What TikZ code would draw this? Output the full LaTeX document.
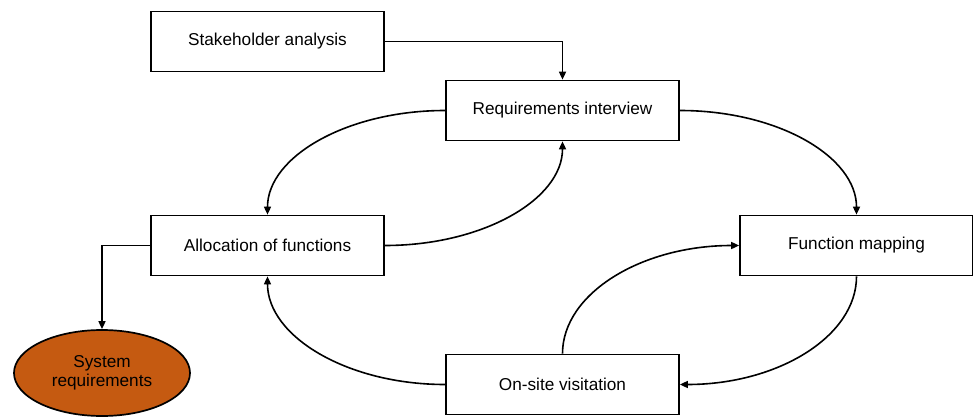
\documentclass[tikz,border=0pt]{standalone}
\usepackage{fontspec}
\setmainfont{Liberation Sans}
\usetikzlibrary{arrows.meta,shapes.geometric}
\definecolor{rust}{HTML}{C55A11}
\begin{document}
\begin{tikzpicture}[x=1pt,y=-1pt,
  every node/.style={font=\fontsize{17.2}{20}\selectfont},
  stepbox/.style={draw=black,line width=1.7pt,fill=white,minimum width=233pt,minimum height=60pt,inner sep=0pt},
  goal/.style={draw=black,line width=1.7pt,fill=rust,ellipse,minimum width=176pt,minimum height=86pt,inner sep=0pt,align=center},
  link/.style={draw=black,line width=1.6pt,-{Triangle[length=8pt,width=7pt]}}]
\useasboundingbox (0,0) rectangle (973,417);
% process steps
\node[stepbox] (sh) at (267.5,41.5) {Stakeholder analysis};
\node[stepbox] (ri) at (562.5,110.5) {Requirements interview};
\node[stepbox] (af) at (267.5,245.5) {Allocation of functions};
\node[stepbox] (fm) at (856.5,245.5) {Function mapping};
\node[stepbox] (ov) at (562.5,384.5) {On-site visitation};
\node[goal] (sr) at (102,373) {System\\[-1pt]requirements};
% connectors
\draw[link] (sh.east) -| (ri.north);
\draw[link] (af.west) -| (sr.north);
\draw[link] (ri.west) .. controls +(-98,0) and +(0,-58) .. (af.north);
\draw[link] (af.east) .. controls +(98,0) and +(0,58) .. (ri.south);
\draw[link] (ri.east) .. controls +(98,0) and +(0,-58) .. (fm.north);
\draw[link] (fm.south) .. controls +(0,60) and +(98,0) .. (ov.east);
\draw[link] (ov.north) .. controls +(0,-60) and +(-98,0) .. (fm.west);
\draw[link] (ov.west) .. controls +(-98,0) and +(0,60) .. (af.south);
\end{tikzpicture}
\end{document}
